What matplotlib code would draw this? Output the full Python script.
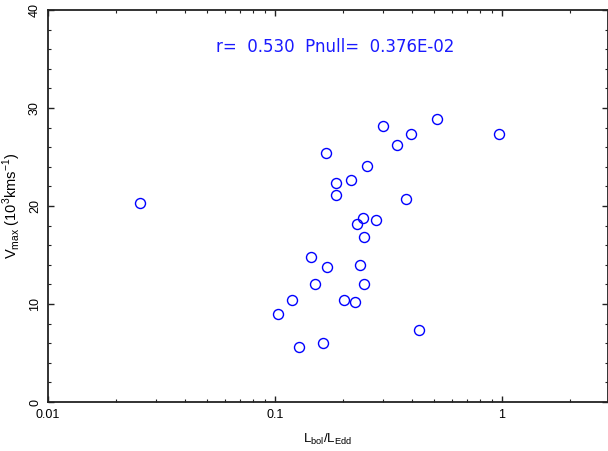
import numpy as np
import matplotlib
matplotlib.use('Agg')
import matplotlib.pyplot as plt
from matplotlib.ticker import FixedLocator, NullFormatter, MultipleLocator

# L_bol / L_Edd and V_max (10^3 km/s)
l_ratio = [0.0255, 0.1034, 0.1188, 0.1272, 0.1441, 0.1505, 0.1627, 0.1678,
           0.1700, 0.1857, 0.1857, 0.2020, 0.2156, 0.2258, 0.2291, 0.2368,
           0.2441, 0.2459, 0.2467, 0.2551, 0.2795, 0.3000, 0.3436, 0.3776,
           0.3962, 0.4323, 0.5157, 0.9730]
v_max = [20.34, 8.95, 10.44, 5.64, 14.77, 12.01, 6.05, 25.38,
         13.78, 22.32, 21.12, 10.44, 22.68, 10.23, 18.19, 13.95,
         18.81, 12.01, 16.87, 24.05, 18.62, 28.13, 26.19, 20.74,
         27.35, 7.38, 28.88, 27.35]
x_ticks = [0.01, 0.1, 1]
x_tick_labels = ['0.01', '0.1', '1']
y_ticks = [0, 10, 20, 30, 40]
stat_text = 'r=  0.530  Pnull=  0.376E-02'

plt.rcParams['font.family'] = ['Liberation Sans', 'DejaVu Sans']

fig = plt.figure(figsize=(6.08, 4.51), dpi=100)
ax = fig.add_axes([48/608, 1 - 402/451, 559.5/608, 392/451])

ax.plot(l_ratio, v_max, 'o', mfc='none', mec='#0000ff', ms=7.2, mew=1.0)

ax.set_xscale('log')
ax.set_xlim(0.01, 10**((607.5 - 48)/227 - 2))
ax.set_ylim(0, 40)

ax.xaxis.set_major_locator(FixedLocator(x_ticks))
ax.set_xticklabels(x_tick_labels)
minors = [m * d for d in [0.01, 0.1, 1] for m in range(2, 10)]
ax.xaxis.set_minor_locator(FixedLocator(minors))
ax.xaxis.set_minor_formatter(NullFormatter())
ax.yaxis.set_major_locator(FixedLocator(y_ticks))
ax.yaxis.set_minor_locator(MultipleLocator(2))

ax.tick_params(which='both', direction='in', top=True, right=True,
               colors='#222222', labelcolor='black', labelsize=9)
ax.tick_params(which='major', length=4.5, width=1.0)
ax.tick_params(which='minor', length=2.2, width=0.8)
ax.tick_params(axis='x', pad=5)
ax.tick_params(axis='y', pad=5)
plt.setp(ax.get_yticklabels(), rotation=90, va='center')

for s in ax.spines.values():
    s.set_linewidth(1.3)
    s.set_color('#222222')

ax.set_xlabel(r'L$_{\mathregular{bol}}$/L$_{\mathregular{Edd}}$', fontsize=9.5, labelpad=8)
ax.set_ylabel(r'V$_{\mathregular{max}}$ (10$^{\mathregular{3}}$kms$^{\mathregular{-1}}$)',
              fontsize=10.5, labelpad=4)

ax.text(0.514, 0.906, stat_text, transform=ax.transAxes, color='#1a1aff',
        fontsize=12, ha='center', va='center', family='DejaVu Sans')

fig.savefig('out.png', dpi=100)
